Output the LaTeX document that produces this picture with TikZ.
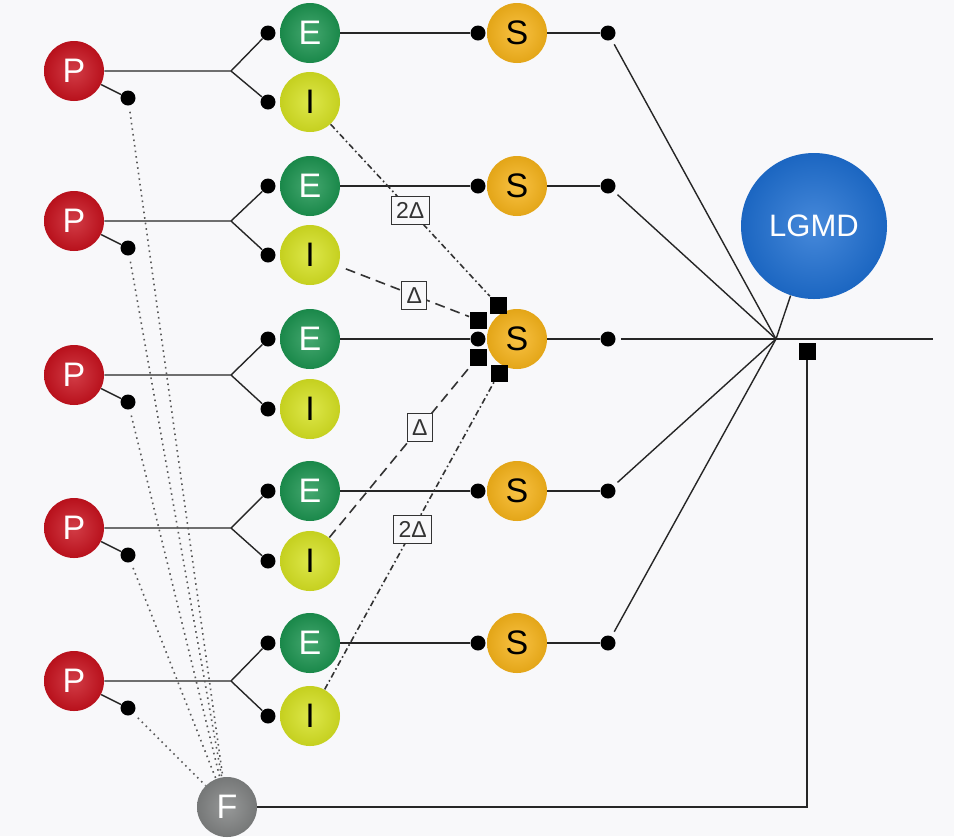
\documentclass[tikz,border=0pt]{standalone}
\usepackage{fontspec}
\setmainfont{Liberation Sans}
\usetikzlibrary{positioning}
\usetikzlibrary{calc}
\definecolor{bgc}{HTML}{F8F8FA}
\definecolor{cred}{HTML}{C8121E}
\definecolor{cgreen}{HTML}{1C9450}
\definecolor{cyel}{HTML}{D6E222}
\definecolor{corange}{HTML}{F7B41A}
\definecolor{cgray}{HTML}{808282}
\definecolor{cblue}{HTML}{1E6FD2}
\tikzset{
    sphere/.style = {circle, minimum size=30pt, inner sep=0pt, shading=radial, inner color=#1!82!white, outer color=#1!92!black, font=\fontsize{17}{17}\selectfont},
    neuronp/.style = {sphere=cred, text=white},
    neurone/.style = {sphere=cgreen, text=white},
    neuroni/.style = {sphere=cyel, text=black},
    neurons/.style = {sphere=corange, text=black},
    neuronf/.style = {sphere=cgray, text=white},
    neuronl/.style = {sphere=cblue, text=white, minimum size=73pt, font=\fontsize{15.5}{15.5}\selectfont},
    syn/.style = {circle, fill=black, minimum size=7.5pt, inner sep=0pt},
    synsq/.style = {rectangle, fill=black, minimum size=8.5pt, inner sep=0pt},
    edgen/.style = {-, line width=0.7pt, black!85},
    edgedash/.style = {-, line width=0.8pt, black!80, dash pattern=on 5pt off 3pt}, % inhibition
    edgedashdot/.style = {-, line width=0.8pt, black!80, dash pattern=on 3pt off 1.5pt on 0.8pt off 1.5pt}, % delayed inhibition
    edgedot/.style = {-, line width=0.8pt, black!65, dotted}, % feed forward
    lbl/.style = {solid, draw=black!80, fill=bgc, line width=0.6pt, inner sep=2.5pt, minimum height=14pt, font=\fontsize{11.5}{11.5}\selectfont}
}

\begin{document}
\begin{tikzpicture}[x=0.5pt, y=-0.5pt]
  \fill[bgc] (0,0) rectangle (954,836);
  % layers P, E, I, S
  \foreach \n/\yp/\ye/\yi in {1/71/33/102, 2/221/186/255, 3/375/339/409, 4/528/491/561, 5/681/643/716} {
    \node[neuronp] (P\n) at (74,\yp) {P};
    \node[neurone] (E\n) at (310,\ye) {E};
    \node[neuroni] (I\n) at (310,\yi) {I};
    \node[neurons] (S\n) at (517,\ye) {S};
    \node[syn] (pd\n) at (128,{\yp+27}) {};
    \node[syn] (ed\n) at (268,\ye) {};
    \node[syn] (id\n) at (268,\yi) {};
    \node[syn] (sa\n) at (478,\ye) {};
    \node[syn] (sb\n) at (608,\ye) {};
    \coordinate (br\n) at (231,\yp);
    \draw[edgen] (P\n) -- (br\n) -- (ed\n);
    \draw[edgen] (br\n) -- (id\n);
    \draw[edgen] (P\n) -- (pd\n);
    \draw[edgen] (E\n) -- (sa\n);
    \draw[edgen] (S\n) -- (sb\n);
  }
  % LGMD and F
  \node[neuronl] (lgmd) at (814,226) {LGMD};
  \node[neuronf] (F) at (227,807) {F};
  \coordinate (hub) at (776,339);
  \coordinate (out) at (933,339);
  \foreach \n in {1,...,5} {
    \draw[edgen, shorten <=2.5pt] (sb\n) -- (hub);
    \draw[edgedot, shorten <=3pt] (pd\n) -- (F);
  }
  \draw[edgen] (hub) -- (out);
  \draw[edgen] (lgmd) -- (hub);
  \node[synsq] (sqo) at (807,351) {};
  \draw[edgen] (sqo) |- (F);
  % lateral inhibition to the middle S
  \node[synsq] (sqa) at (498,305) {};
  \node[synsq] (sqb) at (478,320) {};
  \node[synsq] (sqc) at (478,357) {};
  \node[synsq] (sqd) at (499,373) {};
  \draw[edgedashdot] (I1) -- node[lbl, pos=0.5] {2Δ} (sqa);
  \draw[edgedash, shorten <=4pt] (I2) -- node[lbl, pos=0.58] {Δ} (sqb);
  \draw[edgedash] (I4) -- node[lbl, pos=0.64] {Δ} (sqc);
  \draw[edgedashdot] (I5) -- node[lbl, pos=0.52] {2Δ} (sqd);
\end{tikzpicture}
\end{document}
